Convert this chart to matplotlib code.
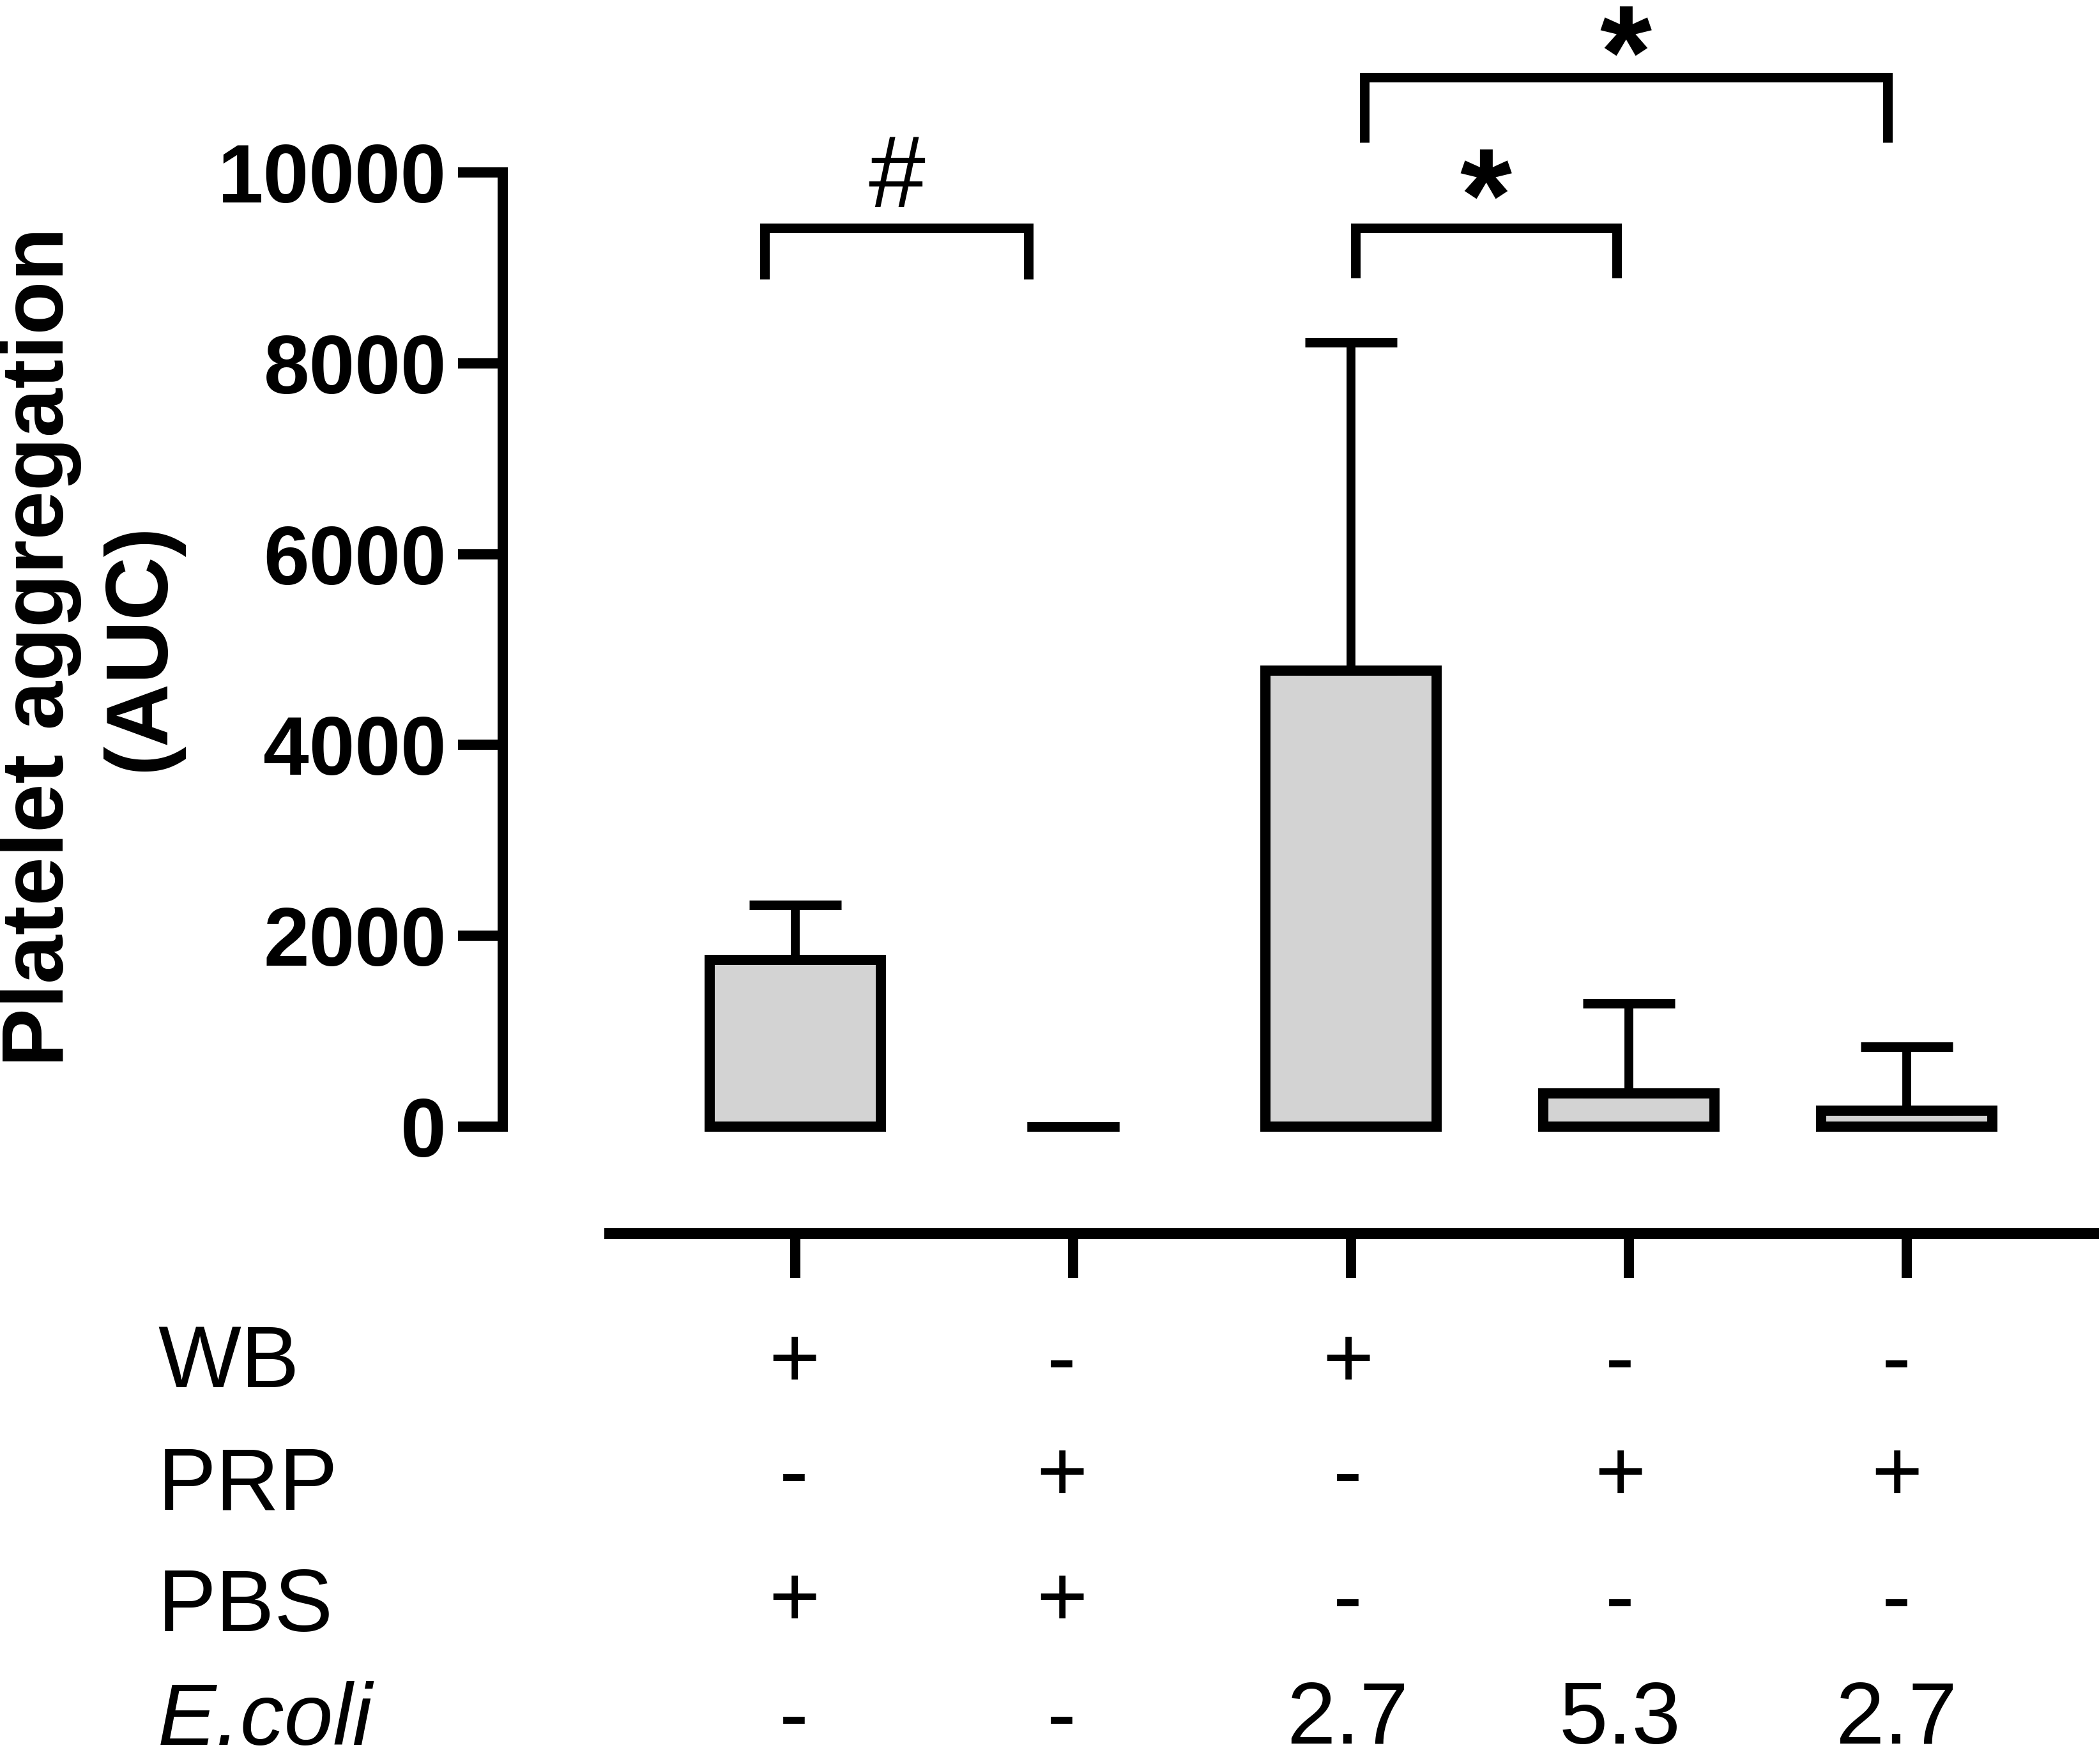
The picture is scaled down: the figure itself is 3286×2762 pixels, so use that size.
import matplotlib
matplotlib.use('Agg')
import matplotlib.pyplot as plt
import matplotlib.transforms as mtransforms
import numpy as np

plt.rcParams['font.family'] = ['Liberation Sans', 'DejaVu Sans']

# ---------------- data ----------------
groups = ['WB+PBS', 'PRP+PBS', 'WB+E.coli 2.7', 'PRP+E.coli 5.3', 'PRP+E.coli 2.7']
means = [1750, 0, 4780, 350, 170]
sem = [573, 0, 3440, 942, 667]
yticks = [0, 2000, 4000, 6000, 8000, 10000]
ylabel = 'Platelet aggregation\n(AUC)'

row_labels = ['WB', 'PRP', 'PBS', 'E.coli']
row_values = [['+', '-', '+', '-', '-'],
              ['-', '+', '-', '+', '+'],
              ['+', '+', '-', '-', '-'],
              ['-', '-', '2.7', '5.3', '2.7']]

# significance brackets: (x_left, x_right, y_leg_bottom, y_top)
brackets = [(-0.11, 0.84, 8880, 9420),
            (2.016, 2.956, 8895, 9420),
            (2.048, 3.93, 10314, 10997)]
sig_labels = ['#', '*', '*']
sig_baseline = [9639, 9290, 10783]

# ---------------- figure ----------------
W, H = 3286, 2762
fig = plt.figure(figsize=(W / 100, H / 100), dpi=100)
ax = fig.add_axes([787 / W, 1 - 1764 / H, (W - 787) / W, (1764 - 270) / H])
ax.set_xlim(-1.053, 4.692)
ax.set_ylim(0, 10000)

x = np.arange(len(means))
ax.bar(x, means, width=0.618, color='#d3d3d3', edgecolor='black',
       linewidth=[11.5 if m > 0 else 0 for m in means], clip_on=False, zorder=2)
eb = ax.errorbar(x, means, yerr=[np.zeros(len(sem)), sem], fmt='none', ecolor='black',
                 elinewidth=10, capsize=51.8, capthick=10.8, zorder=3)
for art in eb.get_children():
    art.set_clip_on(False)

# spines
for s in ['top', 'right']:
    ax.spines[s].set_visible(False)
ax.spines['left'].set_linewidth(11.5)
ax.spines['left'].set_bounds(0, 10000)
ax.spines['bottom'].set_linewidth(12.2)
ax.spines['bottom'].set_position(('outward', 119.9))
ax.spines['bottom'].set_bounds(-0.67, 4.692)

ax.set_yticks(yticks)
ax.set_yticklabels([str(t) for t in yticks], fontsize=92.7, fontweight='bold')
ax.tick_params(axis='y', direction='out', length=50.4, width=11.5, pad=13, colors='black')
ax.set_xticks(x)
ax.set_xticklabels([])
ax.tick_params(axis='x', direction='out', length=50.4, width=11.5, colors='black')

# brackets and significance marks
for (x1, x2, yb, yt), lab, yl in zip(brackets, sig_labels, sig_baseline):
    ax.plot([x1, x1, x2, x2], [yb, yt, yt, yb], color='black', lw=10.8,
            solid_joinstyle='miter', solid_capstyle='butt', clip_on=False, zorder=4)
    if lab == '#':
        ax.text((x1 + x2) / 2, yl, lab, ha='center', va='baseline', fontsize=115,
                fontweight='normal', clip_on=False)
    else:
        ax.text((x1 + x2) / 2, yl, lab, ha='center', va='baseline', fontsize=150,
                fontweight='bold', clip_on=False)

# y label
fig.text(142 / W, 1 - 1013 / H, ylabel, rotation=90, ha='center', va='center',
         fontsize=99, fontweight='bold', multialignment='center', linespacing=1.28)

# condition table below the axis
trans = mtransforms.blended_transform_factory(ax.transData, fig.transFigure)
label_base = [2172, 2363, 2554, 2732]
value_base = [2172, 2350, 2546, 2730]
col_shift_px = [-2, -18, -5, -14, -16]
px_per_unit = (W - 787) / (4.692 + 1.053)
for lab, yb in zip(row_labels, label_base):
    fig.text(247 / W, 1 - yb / H, lab, ha='left', va='baseline', fontsize=99,
             fontstyle='italic' if lab == 'E.coli' else 'normal')
for vals, yb in zip(row_values, value_base):
    for xi, dx, v in zip(x, col_shift_px, vals):
        ax.text(xi + dx / px_per_unit, 1 - yb / H, v, transform=trans, ha='center',
                va='baseline', fontsize=99, clip_on=False)

fig.savefig('out.png', dpi=100, facecolor='white')
